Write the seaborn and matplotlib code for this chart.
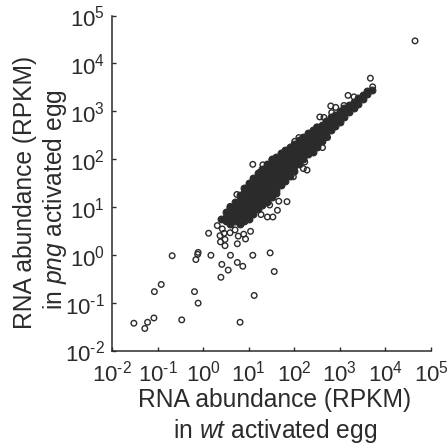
import numpy as np
import pandas as pd
import matplotlib
matplotlib.use('Agg')
import matplotlib.pyplot as plt
import matplotlib.transforms as mtransforms
import seaborn as sns

# all values as log10(RPKM)
spread_wt = [-1.52, -1.28, -1.22, -1.08, -0.47, -1.07, -0.92, -0.19, -0.11, -0.68,
             -0.11, -0.12, -0.16, 0.17, 0.41, 0.39, 0.55, 0.60, 0.12, 0.31,
             0.37, 0.38, 0.48, 0.48, 0.75, 0.93, 1.04, 0.89, 0.77, 0.59,
             0.46, 0.42, 0.70, 1.09, 1.47, 1.56, 0.75, 0.87, 1.12, 0.81,
             1.66, 1.84, 1.63, 1.53, 1.41, 1.27, 0.59, 1.46, 4.65, 3.67,
             3.18, 2.80, 2.91, 3.09, 3.31, 2.56, 2.65, 2.82, 2.10, 2.01,
             2.62, 2.73, 1.09, 1.31, 1.51, 1.25, 0.74, 2.28, 2.20, 1.98,
             2.23, 3.72, 2.49]
spread_png = [-1.43, -1.54, -1.41, -1.32, -1.36, -0.77, -0.62, -0.77, -1.01, -0.02,
              0.05, 0.01, -0.10, -0.01, -0.20, -0.47, -0.32, -0.01, 0.45, 0.61,
              0.40, 0.27, 0.32, 0.19, 0.23, 0.33, 0.49, 0.43, 0.39, 0.46,
              0.45, 0.54, 0.52, -0.01, 0.04, -0.35, -0.16, -0.24, -0.85, -1.41,
              1.12, 1.11, 0.93, 0.79, 0.79, 0.84, 1.01, 1.04, 4.47, 3.69,
              3.33, 3.11, 3.08, 3.12, 3.30, 2.88, 2.87, 2.97, 2.45, 2.37,
              2.24, 2.45, 1.89, 1.88, 1.99, 1.73, 1.26, 1.77, 1.80, 1.63,
              1.94, 3.51, 2.67]

# dense band, one list of png values per wt column
band_wt = [0.4, 0.5, 0.6, 0.7, 0.8, 0.9, 1.0, 1.1, 1.2, 1.3, 1.4, 1.5,
           1.6, 1.7, 1.8, 1.9, 2.0, 2.1, 2.2, 2.3, 2.4, 2.5, 2.6, 2.7,
           2.8, 2.9, 3.0, 3.1, 3.2, 3.3, 3.4, 3.5, 3.6, 3.7]
band_png = [
    [0.75],
    [0.70, 0.80, 0.90],
    [0.65, 0.75, 0.85, 0.95, 1.00],
    [0.70, 0.80, 0.90, 1.00, 1.10],
    [0.65, 0.75, 0.85, 0.95, 1.05, 1.15, 1.25],
    [0.70, 0.80, 0.90, 1.00, 1.10, 1.20, 1.30, 1.40],
    [0.75, 0.85, 0.95, 1.05, 1.15, 1.25, 1.35, 1.45, 1.50],
    [0.85, 0.95, 1.05, 1.15, 1.25, 1.35, 1.45, 1.55, 1.60],
    [0.95, 1.05, 1.15, 1.25, 1.35, 1.45, 1.55, 1.65, 1.70],
    [1.05, 1.10, 1.20, 1.30, 1.40, 1.50, 1.60, 1.70, 1.80],
    [1.10, 1.15, 1.25, 1.35, 1.45, 1.55, 1.65, 1.75, 1.85, 1.90],
    [1.20, 1.30, 1.40, 1.50, 1.60, 1.70, 1.80, 1.90, 2.00],
    [1.30, 1.35, 1.45, 1.55, 1.65, 1.75, 1.85, 1.95, 2.05],
    [1.45, 1.50, 1.60, 1.70, 1.80, 1.90, 2.00, 2.12],
    [1.55, 1.65, 1.75, 1.85, 1.95, 2.05, 2.15, 2.20],
    [1.65, 1.70, 1.80, 1.90, 2.00, 2.10, 2.20, 2.25],
    [1.75, 1.85, 1.95, 2.05, 2.15, 2.25, 2.32],
    [1.90, 2.00, 2.10, 2.20, 2.30, 2.40],
    [2.00, 2.05, 2.15, 2.25, 2.35, 2.47],
    [2.10, 2.20, 2.30, 2.40, 2.50, 2.55],
    [2.15, 2.25, 2.35, 2.45, 2.55, 2.60],
    [2.25, 2.30, 2.40, 2.50, 2.60, 2.67],
    [2.38, 2.45, 2.55, 2.65, 2.72],
    [2.48, 2.55, 2.65, 2.75, 2.80],
    [2.60, 2.70, 2.80, 2.87],
    [2.70, 2.78, 2.86, 2.93],
    [2.78, 2.85, 2.93, 3.00],
    [2.88, 2.97, 3.06],
    [2.98, 3.05, 3.13],
    [3.06, 3.13, 3.20],
    [3.15, 3.21, 3.27],
    [3.25, 3.33],
    [3.37, 3.42],
    [3.45],
]
tick_powers = [-2, -1, 0, 1, 2, 3, 4, 5]

dark = '#2b2b2b'

sns.set_style('ticks')
plt.rcParams['font.family'] = ['Liberation Sans', 'DejaVu Sans']
plt.rcParams['mathtext.fontset'] = 'custom'
plt.rcParams['mathtext.rm'] = 'Liberation Sans'
plt.rcParams['mathtext.it'] = 'Liberation Sans:italic'

spread = pd.DataFrame({'wt': 10.0 ** np.array(spread_wt), 'png': 10.0 ** np.array(spread_png)})
rows = [(w, p) for w, col in zip(band_wt, band_png) for p in col]
band = pd.DataFrame({'wt': [10.0 ** r[0] for r in rows], 'png': [10.0 ** r[1] for r in rows]})

fig = plt.figure(figsize=(4.47, 4.46), dpi=100)
ax = fig.add_axes([112 / 447, (446 - 350.5) / 446, 319 / 447, 335 / 446])

sns.scatterplot(x='wt', y='png', data=spread, ax=ax, s=16, facecolor='none',
                edgecolor=dark, linewidth=1.0, clip_on=False)
sns.scatterplot(x='wt', y='png', data=band, ax=ax, s=24, color=dark,
                edgecolor=dark, linewidth=0.8, clip_on=False)

ax.set_xscale('log')
ax.set_yscale('log')
ax.set_xlim(1e-2, 1e5)
ax.set_ylim(1e-2, 1e5)
ticks = [10.0 ** p for p in tick_powers]
labels = [(r'$\mathregular{10^{\text{-}%d}}$' % -p) if p < 0 else r'$\mathregular{10^{%d}}$' % p
          for p in tick_powers]
ax.set_xticks(ticks)
ax.set_xticklabels(labels)
ax.set_yticks(ticks)
ax.set_yticklabels(labels)
ax.minorticks_off()
ax.tick_params(axis='both', direction='in', length=3, width=1, color=dark,
               labelcolor=dark, labelsize=16)
ax.tick_params(axis='x', pad=7)
ax.tick_params(axis='y', pad=5)
ax.set_xlabel('')
ax.set_ylabel('')
# y tick digits sit a little below their ticks in the original
shift_down = mtransforms.ScaledTranslation(0, -1 / 100, fig.dpi_scale_trans)
for lab in ax.get_yticklabels():
    lab.set_transform(lab.get_transform() + shift_down)
for side in ['left', 'bottom']:
    ax.spines[side].set_linewidth(1.1)
    ax.spines[side].set_color(dark)
sns.despine(ax=ax)

fig.text(275 / 447, 1 - 400 / 446, 'RNA abundance (RPKM)', ha='center', va='center',
         fontsize=17.7, color=dark)
fig.text(275 / 447, 1 - 431 / 446, r'in $\mathit{wt}$ activated egg', ha='center', va='center',
         fontsize=17.7, color=dark)
fig.text(25 / 447, 1 - 192 / 446, 'RNA abundance (RPKM)', ha='center', va='center',
         rotation=90, fontsize=17.7, color=dark)
fig.text(55 / 447, 1 - 200 / 446, r'in $\mathit{png}$ activated egg', ha='center', va='center',
         rotation=90, fontsize=17.7, color=dark)

fig.savefig('out.png', dpi=100)
